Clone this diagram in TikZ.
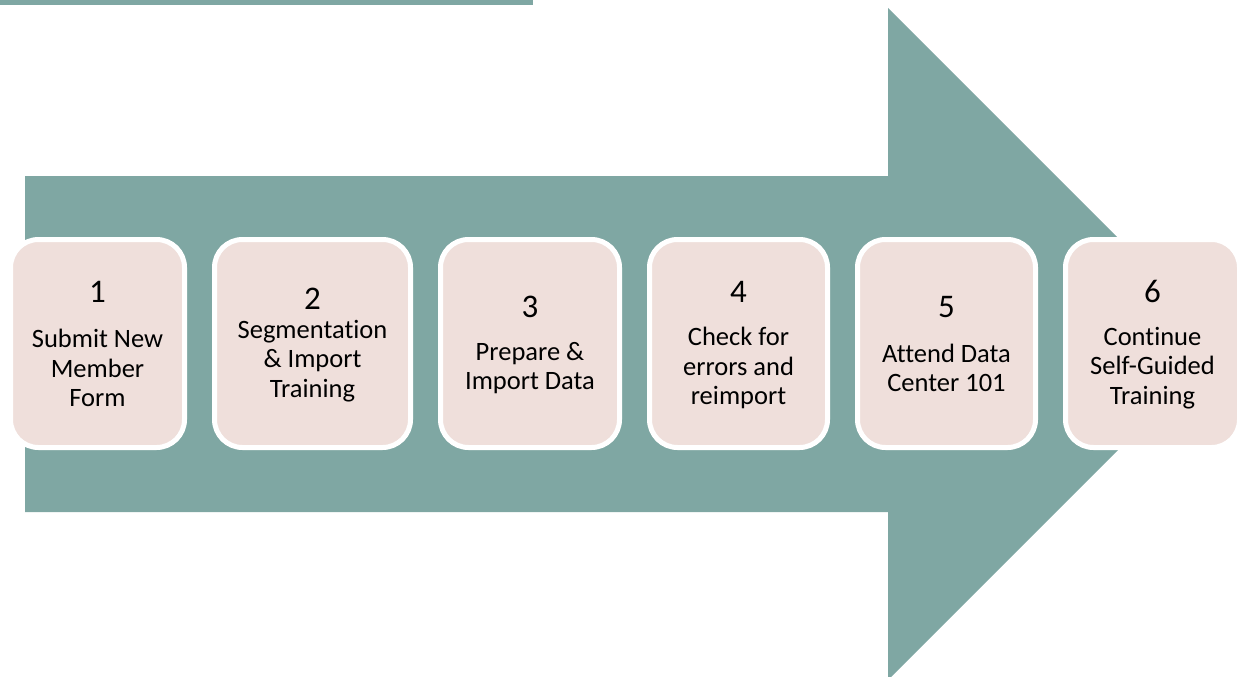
\documentclass[tikz,border=0pt]{standalone}
\usepackage{fontspec}
\setmainfont{Carlito}[Ligatures=NoCommon]
\definecolor{teal}{RGB}{127,167,163}
\definecolor{blush}{RGB}{239,223,219}
\begin{document}
\begin{tikzpicture}[x=1pt,y=-1pt,
  stepbox/.style={draw=white, line width=5pt, fill=blush, rounded corners=28pt,
    minimum width=#1, minimum height=208pt, inner sep=0pt},
  stepnum/.style={font=\fontsize{33}{38}\selectfont, inner sep=0pt},
  steptxt/.style={font=\fontsize{26.5}{29.5}\selectfont, align=center, inner sep=0pt}]
\useasboundingbox (0,0) rectangle (1243,677);
\clip (0,0) rectangle (1243,677);
% thin band along the top edge
\fill[teal] (0,0) rectangle (533,5);
% large process arrow
\fill[teal] (25,176) -- (888,176) -- (888,8) -- (1224,344) -- (888,680)
  -- (888,512) -- (25,512) -- cycle;
% steps
\node[stepbox=174pt] (b1) at (97.5,343.5) {};
\node[stepbox=196pt] (b2) at (312.5,343.5) {};
\node[stepbox=179pt] (b3) at (530,343.5) {};
\node[stepbox=178pt] (b4) at (738.5,343.5) {};
\node[stepbox=178pt] (b5) at (946.5,343.5) {};
\node[stepbox=174pt] (b6) at (1152.5,343.5) {};
\node[stepnum] (n1) at (97.5,292) {1};
\node[steptxt] (t1) at (97.5,368) {Submit New\\Member\\Form};
\node[stepnum] (n2) at (312.5,299) {2};
\node[steptxt] (t2) at (312.5,361) {Segmentation\\\& Import\\Training};
\node[stepnum] (n3) at (530,307) {3};
\node[steptxt] (t3) at (530,368) {Prepare \&\\Import Data};
\node[stepnum] (n4) at (738.5,292) {4};
\node[steptxt] (t4) at (738.5,368) {Check for\\errors and\\reimport};
\node[stepnum] (n5) at (946.5,307) {5};
\node[steptxt] (t5) at (946.5,368) {Attend Data\\Center 101};
\node[stepnum] (n6) at (1152.5,291) {6};
\node[steptxt] (t6) at (1152.5,368) {Continue\\Self-Guided\\Training};
\end{tikzpicture}
\end{document}
